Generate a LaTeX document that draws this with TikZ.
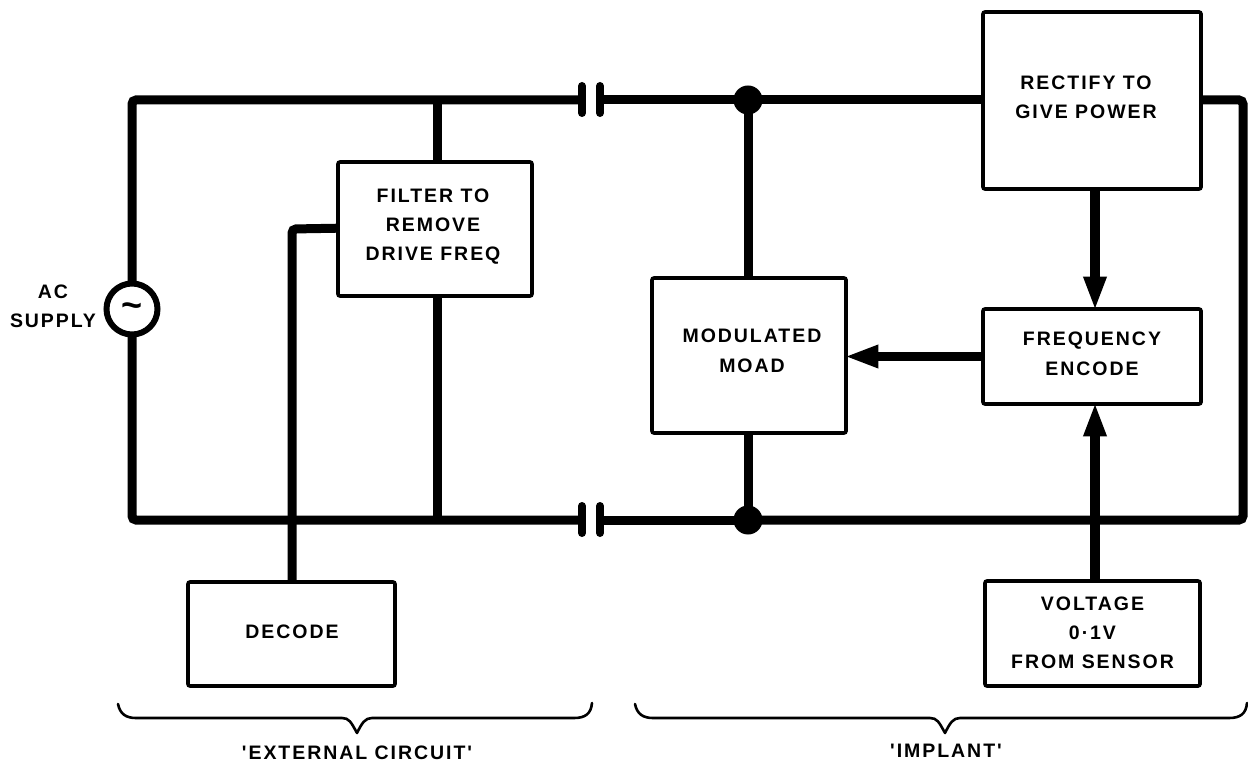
\documentclass[tikz,border=0pt]{standalone}
\usepackage{fontspec}
\newfontfamily\lab{Liberation Sans}[LetterSpace=10]
\newfontfamily\tilfont{Liberation Sans}
\usetikzlibrary{arrows.meta,calc}
\newcommand{\btxt}[3]{\kern#1\vbox{\hbox{\begin{tabular}{@{}c@{}}#3\end{tabular}}\kern#2}}
\tikzset{
 x=1pt,y=-1pt,
 blk/.style={draw=black,line width=3.6pt,rounded corners=2pt,fill=white,inner sep=0pt,font=\lab\bfseries\fontsize{19.5}{29}\selectfont},
 wire/.style={draw=black,line width=9pt,rounded corners=4pt},
 lbl/.style={font=\lab\bfseries\fontsize{19.5}{29}\selectfont,align=center,inner sep=0pt},
 brace/.style={draw=black,line width=2.6pt,line join=round,line cap=round},
 arr/.style={draw=black,line width=9.5pt,shorten >=-3.5pt,-{Triangle[length=34pt,width=21pt]}},
 plate/.style={draw=black,line width=8pt,line cap=round},
 dot/.style={circle,fill=black,minimum size=29pt,inner sep=0pt},
}
\begin{document}
\begin{tikzpicture}
\useasboundingbox (0,0) rectangle (1248,767);
\fill[white] (0,0) rectangle (1248,767);
\coordinate (TL) at (132,100);
\coordinate (BL) at (132,520);
\coordinate (C1L) at (582,100);
\coordinate (C1R) at (600,100);
\coordinate (C2L) at (582,520);
\coordinate (C2R) at (600,520);
\coordinate (TR) at (1243,100);
\coordinate (BR) at (1243,520);
\coordinate (T2) at (437,100);
\coordinate (B2) at (437,520);
\coordinate (B3) at (292,229);
\coordinate (a1) at (1095,189);
\node[dot] (J1) at (748,100) {};
\node[dot] (J2) at (748,520) {};
\draw[wire] (C1L) -- (TL) -- (BL) -- (C2L);
\draw[wire] (C1R) -- (J1.center);
\draw[wire] (C2R) -- (J2.center);
\draw[wire] (J2.center) -- (BR) -- (TR) -- (1190,100);
\draw[wire] (J1.center) -- (1000,100);
\draw[wire] (J1.center) -- (748,300);
\draw[wire] (J2.center) -- (748,420);
\draw[wire] (T2) -- (437,180);
\draw[wire] (B2) -- (437,280);
\draw[wire] (350,228) -- (B3) -- (292,600);
\draw[plate] (582,86) -- (582,113);
\draw[plate] (600,86) -- (600,113);
\draw[plate] (582,506) -- (582,533);
\draw[plate] (600,506) -- (600,533);
\node[circle,draw=black,line width=6pt,fill=white,minimum size=51pt,inner sep=0pt] (S) at (132,309) {};
\node[inner sep=0pt,font=\tilfont\bfseries\fontsize{36}{36}\selectfont] (til) at (132,310) {\char"007E};
\node[lbl] (ac) at (53,306) {AC\\SUPPLY};
\node[blk,minimum width=218pt,minimum height=177pt] (R) at (1092,100.5) {\btxt{-12pt}{4.6pt}{RECTIFY TO\\GIVE POWER}};
\node[blk,minimum width=218pt,minimum height=95pt] (F) at (1092,356.5) {\btxt{0pt}{3.6pt}{FREQUENCY\\ENCODE}};
\node[blk,minimum width=215pt,minimum height=105pt] (V) at (1092.5,633.5) {\btxt{0pt}{0.6pt}{VOLTAGE\\0·1V\\FROM SENSOR}};
\node[blk,minimum width=194pt,minimum height=155pt] (M) at (749,355.5) {\btxt{6pt}{7.6pt}{MODULATED\\MOAD}};
\node[blk,minimum width=194pt,minimum height=134pt] (FL) at (435,229) {\btxt{-4pt}{5.6pt}{FILTER TO\\REMOVE\\DRIVE FREQ}};
\node[blk,minimum width=207pt,minimum height=104pt] (D) at (291.5,634) {\btxt{1pt}{3.6pt}{DECODE}};
\draw[arr] (a1) -- (a1 |- F.north);
\draw[arr] (F.west) -- (M.east |- F.west);
\draw[arr] (a1 |- V.north) -- (a1 |- F.south);
\coordinate (b1l) at (118,704);
\coordinate (b1r) at (592,703);
\coordinate (b2l) at (635,704);
\coordinate (b2r) at (1247,703);
\coordinate (t1) at (357,733);
\coordinate (t2) at (945,733);
\draw[brace] (b1l) .. controls (120,714) and (126,718) .. (136,718) -- (342,718) .. controls (349,718) and (351,722) .. (t1) .. controls (362,723) and (365,718) .. (372,718) -- (574,718) .. controls (585,718) and (591,714) .. (b1r);
\draw[brace] (b2l) .. controls (637,714) and (643,718) .. (653,718) -- (930,718) .. controls (937,718) and (939,722) .. (t2) .. controls (950,723) and (953,718) .. (960,718) -- (1229,718) .. controls (1240,718) and (1246,714) .. (b2r);
\node[lbl] (ext) at (357,753) {'EXTERNAL CIRCUIT'};
\node[lbl] (imp) at (946,751) {'IMPLANT'};
\end{tikzpicture}
\end{document}
